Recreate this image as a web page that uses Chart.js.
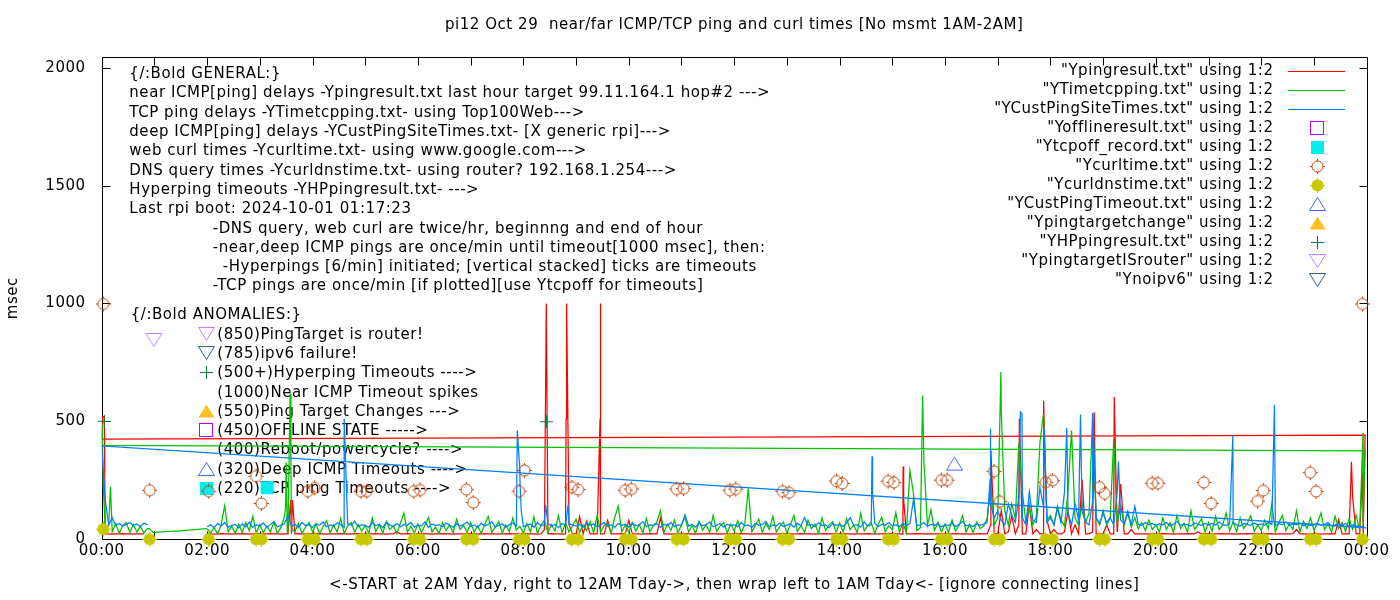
<!DOCTYPE html>
<html>
<head>
<meta charset="utf-8">
<title>pi12 ping times</title>
<script src="https://cdn.jsdelivr.net/npm/chart.js@4.4.1/dist/chart.umd.min.js"></script>
<style>
  html, body { margin: 0; padding: 0; background: #fff; }
  canvas { display: block; }
</style>
</head>
<body>
<canvas id="chart" width="1400" height="600"></canvas>
<script>
// sampling step of the line series grids (4 minutes, in hours)
const STEP = 1 / 15;

// near ICMP ping (red) - grid from 02:00, then 00:00 segment
const redDay = [
  22,22,21,22,23,22,22,21,22,22,23,22,21,22,22,
  22,21,22,23,22,22,21,22,22,22,22,23,22,21,22,
  22,22,23,22,21,22,22,22,23,22,21,22,22,23,22,
  21,22,22,23,22,22,21,22,22,30,22,22,23,22,21,
  22,23,22,22,21,22,22,23,22,22,21,22,22,22,23,
  22,22,21,22,23,22,22,22,21,22,22,23,22,22,21,
  22,23,22,22,21,22,40,22,23,22,22,21,22,60,22,
  22,95,22,75,22,22,22,22,22,79,22,22,22,23,22,
  79,22,22,22,21,22,23,22,22,90,22,22,21,22,22,
  22,23,22,22,21,22,22,22,23,22,22,21,22,22,22,
  22,22,23,22,22,21,22,22,22,23,22,22,21,22,22,
  22,22,21,22,23,22,22,22,21,22,22,23,22,22,22,
  22,23,22,22,21,22,22,22,23,22,22,21,22,22,23,
  22,22,22,21,22,22,22,23,22,22,21,22,22,22,22,
  22,21,22,23,22,22,22,21,22,22,23,22,22,60,22,
  22,120,22,30,99,22,60,22,22,143,22,40,22,22,80,
  22,40,22,22,30,120,22,60,22,252,22,22,30,22,22,
  22,60,22,22,30,233,22,22,40,22,22,22,22,21,22,
  22,22,23,22,22,21,22,22,22,23,22,22,30,22,22,
  22,21,22,22,23,22,22,22,21,22,22,23,22,22,22,
  22,22,23,22,21,22,22,22,22,23,40,22,22,21,22,
  22,22,21,22,22,23,22,82,22,22,22,177,22,22,22
];
const redSpikeT = [3.585, 3.62, 8.435, 8.447, 8.81, 8.82, 9.455, 9.46, 15.205, 15.215, 16.87, 17.41, 17.87, 18.83, 19.21, 23.71, 23.92, 23.97];
const redSpikeV = [165, 165, 1000, 1000, 510, 1000, 510, 1000, 308, 167, 376, 510, 587, 538, 603, 328, 280, 441];
const redNight = [424,22,22,21,22,22,23,22,22,21,22,22,22];
const redNightT = [0.02, 0.05];
const redNightV = [520, 520];

// TCP ping (green)
const greenDay = [
  44,25,48,22,60,141,30,55,24,62,28,70,35,96,26,
  62,26,55,30,72,24,48,95,28,58,32,66,24,50,70,
  30,64,22,52,78,26,60,30,88,24,56,70,28,62,34,
  58,24,90,32,60,26,74,40,56,22,68,110,30,54,26,
  64,28,58,92,30,50,24,70,36,60,26,84,40,58,28,
  70,30,56,24,62,96,28,50,74,26,60,32,90,38,54,
  26,66,30,95,24,58,80,28,62,34,100,26,70,30,56,
  84,28,60,36,74,26,100,30,58,66,24,92,139,30,60,
  28,70,34,62,26,88,30,56,72,120,28,64,36,80,26,
  60,94,30,58,24,76,38,62,28,100,32,56,70,26,64,
  34,78,26,60,214,30,58,84,28,66,40,96,30,54,72,
  26,62,100,32,58,28,80,44,64,24,90,36,60,74,28,
  68,30,86,40,60,26,110,34,58,70,24,64,92,30,56,
  40,111,30,66,28,291,196,36,48,327,60,124,36,70,30,
  64,28,80,34,58,100,30,62,26,72,44,56,88,223,60,
  90,542,120,60,150,86,408,200,70,130,60,96,408,531,80,
  100,60,140,80,56,200,461,90,60,150,70,110,532,90,60,
  120,60,90,422,70,140,60,110,50,90,44,70,36,80,40,
  60,30,90,40,70,28,100,44,66,30,120,40,60,86,30,
  70,34,96,40,60,110,36,72,30,90,44,66,100,32,60,
  36,80,44,150,30,70,100,36,64,40,120,30,76,44,90,
  36,70,110,40,64,30,96,44,70,32,86,40,100,36,60
];
const greenSpikeT = [3.49, 3.50, 3.52, 3.575, 3.59, 3.61, 15.575, 17.06, 23.93, 23.97];
const greenSpikeV = [139, 325, 30, 617, 325, 40, 609, 709, 450, 374];
const greenNight = [397,40,60,30,66,24,58,70,28,62,30,54,26,44];
const greenNightT = [0.01, 0.03, 0.167, 0.9, 0.98, 1.13, 1.49, 1.99];
const greenNightV = [485, 230, 222, 44, 27, 30, 35, 44];

// deep ICMP ping (blue)
const blueDay = [
  52,60,48,66,55,70,50,58,62,47,64,53,72,49,60,
  55,68,50,61,74,52,58,66,100,54,63,50,70,57,61,
  49,65,58,72,51,60,55,68,62,50,64,58,75,52,61,
  57,50,69,56,63,48,71,59,54,66,52,62,58,70,50,
  60,55,73,49,64,57,61,52,68,58,50,66,54,62,72,
  53,60,48,67,56,62,74,51,58,65,50,60,69,55,300,
  52,58,64,50,70,56,61,66,55,62,48,66,57,64,60,
  55,62,50,68,58,64,52,60,70,54,61,49,66,58,63,
  50,67,56,61,74,53,60,58,65,49,62,57,70,52,60,
  58,103,55,62,50,68,56,61,73,52,59,66,50,63,57,
  61,52,70,56,60,49,66,58,62,75,51,60,55,68,53,
  59,64,50,67,55,91,58,62,52,69,57,60,48,65,58,
  62,53,68,91,57,61,50,72,55,60,66,52,63,58,70,
  55,61,52,67,58,64,167,56,60,70,54,62,58,66,51,
  60,57,68,53,62,75,56,60,52,66,58,63,70,150,90,
  120,80,60,150,100,70,180,90,60,200,80,70,218,140,70,
  90,60,130,70,200,110,60,150,80,120,70,60,160,90,66,
  110,70,90,60,200,80,66,117,60,139,62,58,70,60,66,
  58,64,60,70,56,62,75,58,64,60,55,68,62,58,66,
  60,66,58,72,61,57,64,70,60,55,66,62,58,68,60,
  64,58,70,62,56,66,60,72,58,64,60,68,56,62,58,
  60,66,58,62,70,55,60,64,58,66,52,60,56,54,52
];
const blueSpikeT = [4.60, 7.885, 7.91, 7.935, 7.96, 8.42, 8.85, 14.615, 14.625, 16.855, 16.86, 17.43, 17.46, 17.88, 18.31, 18.57, 18.80, 19.29, 21.46, 22.25, 23.97];
const blueSpikeV = [510, 461, 371, 250, 120, 146, 146, 351, 201, 256, 468, 539, 531, 468, 471, 528, 535, 330, 439, 570, 48];
const blueNight = [395,165,60,90,58,66,55,62,70,57,64,52,68,60];

// point series (hour of day, msec)
const curlT = [0.02, 0.90, 2.02, 2.92, 3.02, 3.90, 4.03, 4.91, 5.02, 5.91, 6.03, 6.91, 7.04, 7.91, 8.01, 8.91, 9.03, 9.92, 10.04, 10.90, 11.03, 11.91, 12.02, 12.91, 13.03, 13.93, 14.04, 14.91, 15.02, 15.92, 16.03, 16.92, 17.03, 17.90, 18.03, 18.92, 19.02, 19.92, 20.03, 20.90, 21.04, 21.92, 22.03, 22.92, 23.03, 23.91];
const curlV = [1000, 209, 205, 269, 153, 205, 219, 205, 205, 205, 210, 212, 157, 205, 293, 222, 212, 209, 214, 214, 216, 209, 214, 205, 199, 248, 238, 248, 242, 252, 252, 289, 161, 243, 250, 222, 195, 239, 239, 242, 153, 163, 208, 284, 204, 1000];
const dnsV = [44, 1, 1, 1, 1, 1, 1, 1, 1, 1, 1, 1, 1, 1, 1, 1, 1, 1, 1, 1, 1, 1, 1, 1, 1, 1, 1, 1, 1, 1, 1, 1, 1, 1, 1, 1, 1, 1, 1, 1, 1, 1, 1, 1, 1, 1];
const tcpoffT = [3.13];
const tcpoffV = [220];
const custTimeoutT = [16.17];
const custTimeoutV = [320];
const hpT = [0.04, 8.43];
const hpV = [502, 500];
const routerT = [0.98];
const routerV = [845];

const xTickHours = [0, 2, 4, 6, 8, 10, 12, 14, 16, 18, 20, 22, 24];
const yTickValues = [0, 500, 1000, 1500, 2000];

const titleText = 'pi12 Oct 29  near/far ICMP/TCP ping and curl times [No msmt 1AM-2AM]';
const xTitle = '<-START at 2AM Yday, right to 12AM Tday->, then wrap left to 1AM Tday<- [ignore connecting lines]';

const generalNotes = [
  ['{/:Bold GENERAL:}', 0],
  ['near ICMP[ping] delays -Ypingresult.txt last hour target 99.11.164.1 hop#2 --->', 0],
  ['TCP ping delays -YTimetcpping.txt- using Top100Web--->', 0],
  ['deep ICMP[ping] delays -YCustPingSiteTimes.txt- [X generic rpi]--->', 0],
  ['web curl times -Ycurltime.txt- using www.google.com--->', 0],
  ['DNS query times -Ycurldnstime.txt- using router? 192.168.1.254--->', 0],
  ['Hyperping timeouts -YHPpingresult.txt- --->', 0],
  ['Last rpi boot: 2024-10-01 01:17:23', 0],
  ['-DNS query, web curl are twice/hr, beginnng and end of hour', 1],
  ['-near,deep ICMP pings are once/min until timeout[1000 msec], then:', 1],
  ['-Hyperpings [6/min] initiated; [vertical stacked] ticks are timeouts', 2],
  ['-TCP pings are once/min [if plotted][use Ytcpoff for timeouts]', 1]
];
// text, index of the dataset whose marker goes in front (-1 = none)
const anomalyNotes = [
  ['(850)PingTarget is router!', 10],
  ['(785)ipv6 failure!', 11],
  ['(500+)Hyperping Timeouts ---->', 9],
  ['(1000)Near ICMP Timeout spikes', -1],
  ['(550)Ping Target Changes --->', 8],
  ['(450)OFFLINE STATE ----->', 3],
  ['(400)Reboot/powercycle? ---->', -1],
  ['(320)Deep ICMP Timeouts ---->', 7],
  ['(220)TCP ping Timeouts ---->', 4]
];

const FONT = '"DejaVu Sans", sans-serif';
const SPACING = '0.55px';

function series(segments) {
  const out = [];
  segments.forEach(s => {
    const pts = s.vals.map((v, k) => ({ x: s.start + k * STEP, y: v }));
    s.t.forEach((t, k) => pts.push({ x: t, y: s.v[k] }));
    pts.sort((p, q) => p.x - q.x);
    out.push(...pts);
  });
  return out;
}
function pairs(ts, vs) { return ts.map((t, i) => ({ x: t, y: vs[i] })); }

function marker(kind, color) {
  const c = document.createElement('canvas');
  c.width = 20; c.height = 20;
  const g = c.getContext('2d');
  g.strokeStyle = color; g.fillStyle = color; g.lineWidth = 1;
  g.beginPath();
  if (kind === 'square') g.strokeRect(3.5, 3.5, 13, 13);
  else if (kind === 'squareFill') g.fillRect(4, 4, 13, 13);
  else if (kind === 'circle' || kind === 'dot') {
    g.arc(10.5, 10.5, kind === 'dot' ? 6 : 5.5, 0, Math.PI * 2);
    if (kind === 'dot') g.fill(); else g.stroke();
    g.fillRect(10, 3, 1, 2); g.fillRect(10, 16, 1, 2);
    g.fillRect(3, 10, 2, 1); g.fillRect(16, 10, 2, 1);
  } else if (kind === 'triUp' || kind === 'triUpFill') {
    g.moveTo(10.5, 3.5); g.lineTo(2.5, 16.5); g.lineTo(18.5, 16.5); g.closePath();
    if (kind === 'triUpFill') g.fill(); else g.stroke();
  } else if (kind === 'triDown') {
    g.moveTo(2.5, 3.5); g.lineTo(18.5, 3.5); g.lineTo(10.5, 16.5); g.closePath();
    g.stroke();
  } else if (kind === 'plus') {
    g.moveTo(10.5, 4); g.lineTo(10.5, 17); g.moveTo(4, 10.5); g.lineTo(17, 10.5);
    g.stroke();
  }
  return c;
}

function lineSet(label, color, data, order) {
  return { label, data, borderColor: color, backgroundColor: color, borderWidth: 1.25,
           pointRadius: 0, tension: 0, fill: false, order };
}
function pointSet(label, style, data, order) {
  return { label, data, showLine: false, pointStyle: style, pointRadius: 6,
           clip: false, order };
}

const datasets = [
  lineSet('"Ypingresult.txt" using 1:2', '#ff0000', series([
    { start: 2, vals: redDay, t: redSpikeT, v: redSpikeV },
    { start: 0, vals: redNight, t: redNightT, v: redNightV }
  ]), 30),
  lineSet('"YTimetcpping.txt" using 1:2', '#00c000', series([
    { start: 2, vals: greenDay, t: greenSpikeT, v: greenSpikeV },
    { start: 0, vals: greenNight, t: greenNightT, v: greenNightV }
  ]), 29),
  lineSet('"YCustPingSiteTimes.txt" using 1:2', '#0080ff', series([
    { start: 2, vals: blueDay, t: blueSpikeT, v: blueSpikeV },
    { start: 0, vals: blueNight, t: [], v: [] }
  ]), 28),
  pointSet('"Yofflineresult.txt" using 1:2', marker('square', '#c000ff'), [], 27),
  pointSet('"Ytcpoff_record.txt" using 1:2', marker('squareFill', '#00eeee'), pairs(tcpoffT, tcpoffV), 26),
  pointSet('"Ycurltime.txt" using 1:2', marker('circle', '#c04000'), pairs(curlT, curlV), 25),
  pointSet('"Ycurldnstime.txt" using 1:2', marker('dot', '#c8c800'), pairs(curlT, dnsV), 24),
  pointSet('"YCustPingTimeout.txt" using 1:2', marker('triUp', '#4169e1'), pairs(custTimeoutT, custTimeoutV), 23),
  pointSet('"Ypingtargetchange" using 1:2', marker('triUpFill', '#ffc020'), [], 22),
  pointSet('"YHPpingresult.txt" using 1:2', marker('plus', '#008040'), pairs(hpT, hpV), 21),
  pointSet('"YpingtargetISrouter" using 1:2', marker('triDown', '#c080ff'), pairs(routerT, routerV), 20),
  pointSet('"Ynoipv6" using 1:2', marker('triDown', '#306080'), [], 19)
];

const framePlugin = {
  id: 'gnuFrame',
  beforeDraw(chart) {
    // gnuplot's bitmap font runs a little wider than DejaVu on canvas
    chart.ctx.letterSpacing = SPACING;
  },
  beforeDatasetsDraw(chart) {
    const { ctx, chartArea: a, scales: { x, y } } = chart;
    const L = Math.round(a.left) + 0.5, R = Math.round(a.right) + 0.5;
    const T = Math.round(a.top) + 0.5, B = Math.round(a.bottom) + 0.5;
    ctx.save();
    ctx.strokeStyle = '#000';
    ctx.lineWidth = 1;
    ctx.beginPath();
    ctx.rect(L, T, R - L, B - T);
    for (let h = 1; h < 24; h++) {
      const px = Math.round(x.getPixelForValue(h)) + 0.5;
      ctx.moveTo(px, B); ctx.lineTo(px, B - 8);
      ctx.moveTo(px, T); ctx.lineTo(px, T + 8);
    }
    yTickValues.forEach(v => {
      if (v === 0) return;
      const py = Math.round(y.getPixelForValue(v)) + 0.5;
      ctx.moveTo(L, py); ctx.lineTo(L + 8, py);
      ctx.moveTo(R, py); ctx.lineTo(R - 8, py);
    });
    ctx.stroke();

    // text notes
    ctx.fillStyle = '#000';
    ctx.font = '15px ' + FONT;
    ctx.textBaseline = 'middle';
    ctx.textAlign = 'left';
    const indents = [27.6, 111, 121];
    generalNotes.forEach(([txt, ind], i) => {
      ctx.fillText(txt, a.left + indents[ind], a.top + 17 + i * 19.3);
    });
    ctx.fillText('{/:Bold ANOMALIES:}', a.left + 29, a.top + 257.7);
    anomalyNotes.forEach(([txt, idx], i) => {
      const yy = a.top + 277.5 + i * 19.3;
      if (idx >= 0) {
        const img = chart.data.datasets[idx].pointStyle;
        ctx.drawImage(img, Math.round(a.left + 104.6) - 10, Math.round(yy) - 11);
      }
      ctx.fillText(txt, a.left + 115.6, yy);
    });
    ctx.restore();
  },
  afterDatasetsDraw(chart) {
    const { ctx, chartArea: a } = chart;
    ctx.save();
    ctx.fillStyle = '#000';
    ctx.font = '15px ' + FONT;
    ctx.textBaseline = 'middle';
    ctx.textAlign = 'right';
    chart.data.datasets.forEach((ds, i) => {
      const yy = a.top + 13.4 + i * 19;
      ctx.fillText(ds.label, a.right - 93.2, yy);
      if (ds.pointStyle) {
        ctx.drawImage(ds.pointStyle, Math.round(a.right - 50) - 10, Math.round(yy) - 10);
      } else {
        ctx.strokeStyle = ds.borderColor;
        ctx.lineWidth = 1;
        ctx.beginPath();
        ctx.moveTo(a.right - 78.5, Math.round(yy) + 0.5);
        ctx.lineTo(a.right - 21.5, Math.round(yy) + 0.5);
        ctx.stroke();
      }
    });
    ctx.restore();
  }
};

new Chart(document.getElementById('chart'), {
  type: 'line',
  data: { datasets },
  plugins: [framePlugin],
  options: {
    responsive: false,
    animation: false,
    devicePixelRatio: 1,
    events: [],
    layout: { padding: { left: 0, right: 33.3, top: 0, bottom: 0 } },
    plugins: {
      legend: { display: false },
      tooltip: { enabled: false },
      title: {
        display: true, text: titleText, color: '#000', fullSize: false,
        font: { family: FONT, size: 15, weight: 'normal' },
        padding: { top: 16, bottom: 23.3 }
      }
    },
    scales: {
      x: {
        type: 'linear', min: 0, max: 24,
        afterFit(s) { s.height = 61; },
        afterBuildTicks(s) { s.ticks = xTickHours.map(v => ({ value: v })); },
        grid: { display: false, drawTicks: false },
        border: { display: false },
        ticks: {
          autoSkip: false, maxRotation: 0, padding: 3, color: '#000',
          font: { family: FONT, size: 15 },
          callback: v => String(v % 24).padStart(2, '0') + ':00'
        },
        title: { display: true, text: xTitle, color: '#000', font: { family: FONT, size: 15 }, padding: { top: 0, bottom: 6 } }
      },
      y: {
        min: 0, max: 2045,
        afterFit(s) { s.width = 101.7; },
        afterBuildTicks(s) { s.ticks = yTickValues.map(v => ({ value: v })); },
        grid: { display: false, drawTicks: false },
        border: { display: false },
        ticks: {
          autoSkip: false, padding: 16, color: '#000',
          font: { family: FONT, size: 15 },
          callback: v => String(v)
        },
        title: { display: true, text: 'msec', color: '#000', font: { family: FONT, size: 15 }, padding: { top: 4, bottom: 0 } }
      }
    }
  }
});
</script>
</body>
</html>
